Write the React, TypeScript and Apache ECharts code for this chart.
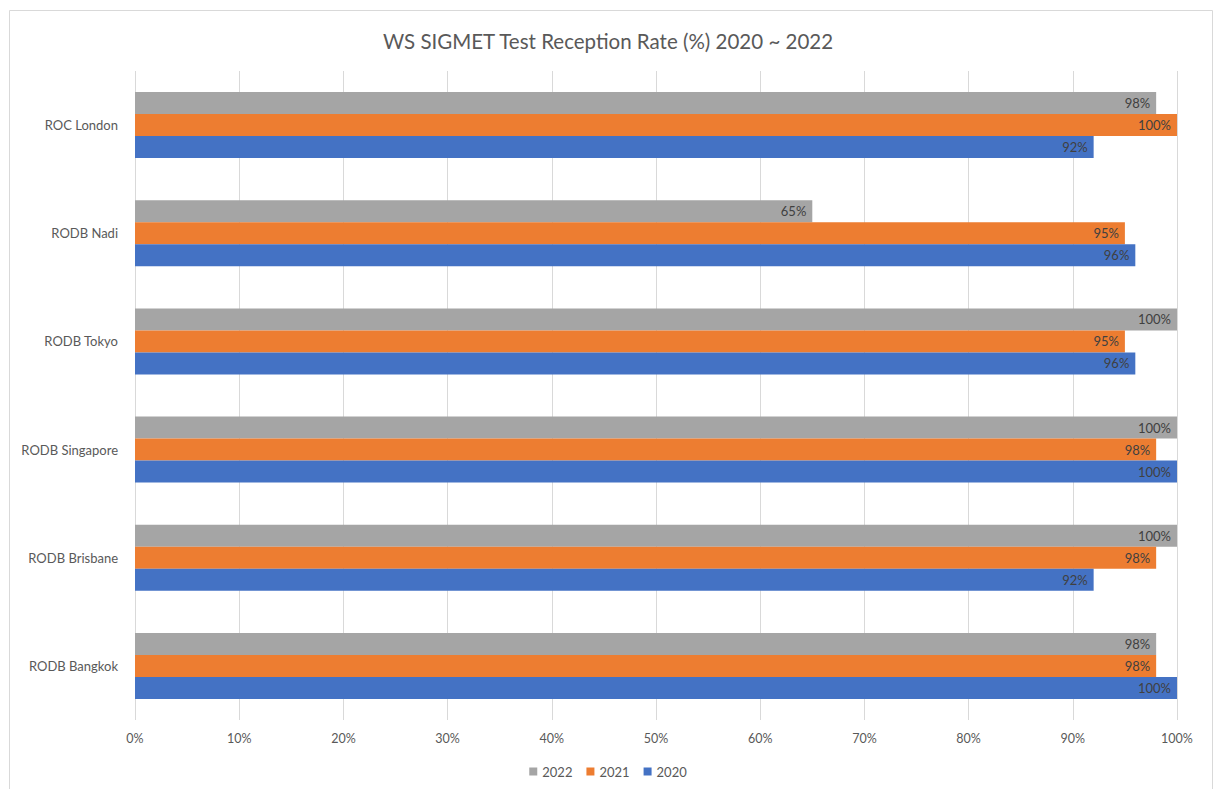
import React, { useEffect, useRef } from "react";
import * as echarts from "echarts";

const categories = ["RODB Bangkok", "RODB Brisbane", "RODB Singapore", "RODB Tokyo", "RODB Nadi", "ROC London"];
const values2022 = [98, 100, 100, 100, 65, 98];
const values2021 = [98, 98, 98, 95, 95, 100];
const values2020 = [100, 92, 100, 96, 96, 92];
const seriesNames = ["2022", "2021", "2020"];
const colors = ["#A5A5A5", "#ED7D31", "#4472C4"];

const FONT = "Lato, 'Open Sans', sans-serif";

export default function App() {
  const ref = useRef<HTMLDivElement>(null);
  useEffect(() => {
    document.body.style.margin = "0";
    const chart = echarts.init(ref.current!, null, { renderer: "svg" });
    const dataSets = [values2022, values2021, values2020];
    chart.setOption({
      animation: false,
      backgroundColor: "#ffffff",
      textStyle: { fontFamily: FONT },
      title: {
        text: "WS SIGMET Test Reception Rate (%) 2020 ~ 2022",
        left: "center",
        top: 25,
        textStyle: { fontFamily: FONT, fontSize: 20.5, fontWeight: "normal", color: "#595959" },
      },
      graphic: [
        {
          type: "rect",
          shape: { x: 9.5, y: 10.5, width: 1203, height: 790 },
          style: { fill: "none", stroke: "#d9d9d9", lineWidth: 1 },
          silent: true,
        },
      ],
      legend: {
        data: seriesNames,
        bottom: 6,
        left: "center",
        itemWidth: 8,
        itemHeight: 8,
        itemGap: 14,
        icon: "rect",
        textStyle: { fontFamily: FONT, fontSize: 13, color: "#595959" },
      },
      grid: { left: 135, right: 39, top: 71, bottom: 69, containLabel: false },
      xAxis: {
        type: "value",
        min: 0,
        max: 100,
        interval: 10,
        axisLine: { show: false },
        axisTick: { show: false },
        splitLine: { show: true, lineStyle: { color: "#d9d9d9", width: 1 } },
        axisLabel: { formatter: "{value}%", color: "#595959", fontSize: 12.5, margin: 12, fontFamily: FONT },
      },
      yAxis: {
        type: "category",
        data: categories,
        axisLine: { show: false },
        axisTick: { show: false },
        axisLabel: { color: "#595959", fontSize: 13, margin: 17, fontFamily: FONT },
      },
      series: seriesNames.map((name, i) => ({
        name,
        type: "bar",
        data: dataSets[i],
        barGap: "0%",
        barCategoryGap: "39%",
        itemStyle: { color: colors[i] },
        label: {
          show: true,
          position: "insideRight",
          formatter: "{c}%",
          color: "#404040",
          fontSize: 13,
          fontFamily: FONT,
          distance: 6,
        },
      })),
    });
    return () => chart.dispose();
  }, []);
  return <div ref={ref} style={{ width: 1216, height: 789 }} />;
}
